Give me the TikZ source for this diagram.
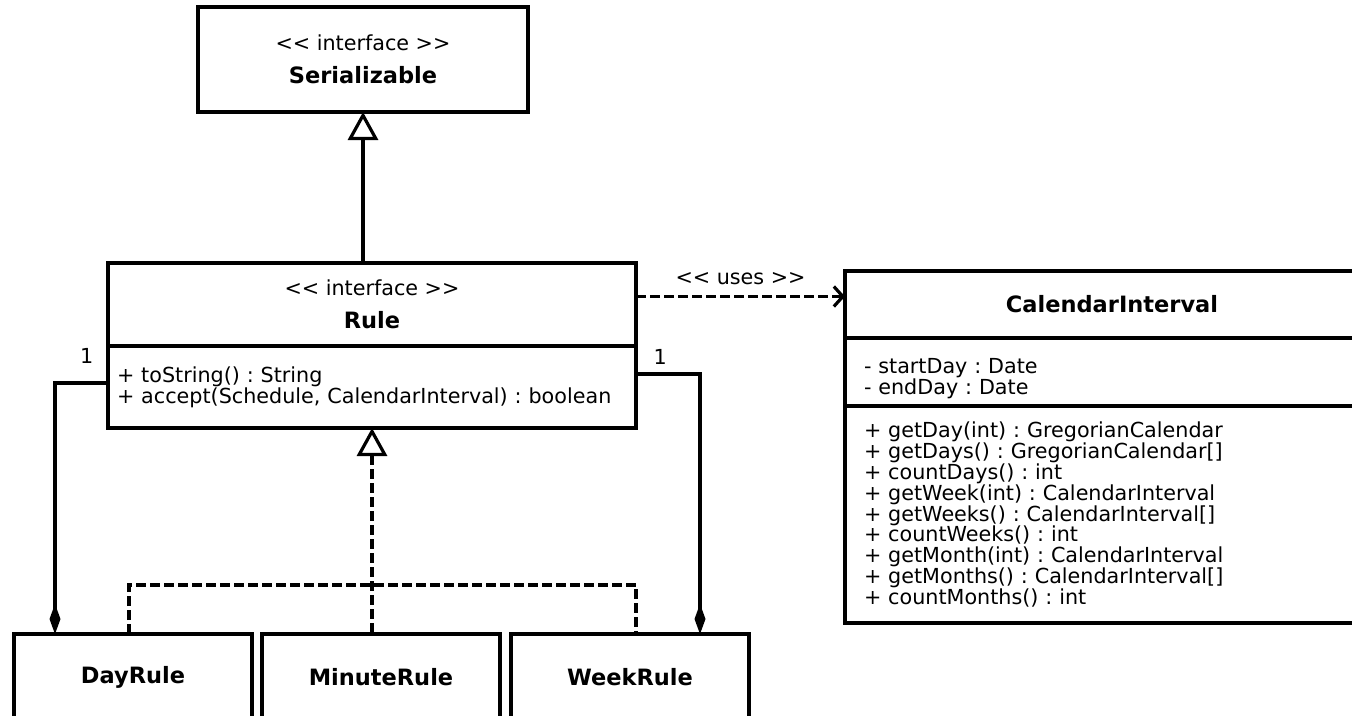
\documentclass[tikz,border=0pt]{standalone}
\usepackage{fontspec}
\setmainfont{DejaVu Sans}
\usetikzlibrary{arrows.meta}
\usetikzlibrary{positioning}

\newcommand{\stereo}[1]{<\kern0pt< #1 >\kern0pt>}
\newcommand{\cname}[1]{{\fontsize{22.5}{24}\selectfont\bfseries #1}}
\frenchspacing

\begin{document}
\begin{tikzpicture}[x=1pt, y=-1pt, line width=3.2pt,
    font=\fontsize{20.7}{20.9}\selectfont,
    box/.style={draw, rectangle, anchor=north west, inner sep=0pt, inner xsep=9pt, outer sep=0pt},
    head/.style={box, align=center},
    part/.style={box, anchor=north, align=left},
    realize/.style={{Triangle[open, length=28pt, width=30pt, fill=white]}-},
    dashline/.style={dash pattern=on 10pt off 4pt},
    compose/.style={-{Diamond[length=30pt, width=11pt]}},
    uses/.style={dashline, -{Straight Barb[length=9pt, width=20pt]}},
    mult/.style={inner sep=0pt}]
    \useasboundingbox (0,0) rectangle (1352,715);
    % interfaces
    \node[head, minimum width=330pt, minimum height=105pt] (serial) at (198,7)
        {\stereo{interface}\\[12pt]\cname{Serializable}};
    \node[head, minimum width=528pt, minimum height=83pt] (ruleHead) at (108,263)
        {\stereo{interface}\\[12pt]\cname{Rule}};
    \node[part, minimum height=82pt, text width=510pt] (ruleOps) at (ruleHead.south)
        {+ toString() : String\\+ accept(Schedule, CalendarInterval) : boolean};
    % calendar interval
    \node[head, minimum width=534pt, minimum height=67pt] (calHead) at (845,271)
        {\cname{CalendarInterval}};
    \node[part, inner xsep=19pt, minimum height=68pt, text width=496pt] (calAttr) at (calHead.south)
        {\rule{0pt}{28pt}- startDay : Date\\- endDay : Date};
    \node[part, inner xsep=19pt, minimum height=217pt, text width=496pt] (calOps) at (calAttr.south)
        {+ getDay(int) : GregorianCalendar\\
         + getDays() : GregorianCalendar[]\\
         + countDays() : int\\
         + getWeek(int) : CalendarInterval\\
         + getWeeks() : CalendarInterval[]\\
         + countWeeks() : int\\
         + getMonth(int) : CalendarInterval\\
         + getMonths() : CalendarInterval[]\\
         + countMonths() : int};
    % rules
    \node[head, minimum width=238pt, minimum height=86pt] (dayRule) at (14,634) {\cname{DayRule}};
    \node[head, minimum width=238pt, minimum height=86pt] (minuteRule) at (262,634) {\cname{MinuteRule}};
    \node[head, minimum width=238pt, minimum height=86pt] (weekRule) at (511,634) {\cname{WeekRule}};

    \draw[realize] (serial.south) -- (serial.south |- ruleHead.north);
    \draw[uses] ([yshift=8pt]ruleHead.east) -- ([yshift=8pt]ruleHead.east -| calHead.west)
        node[midway, anchor=south, yshift=10pt, mult] {\stereo{uses}};

    \coordinate (fork) at (372,585);
    \draw[realize, dashline] (ruleOps.south) -- (ruleOps.south |- minuteRule.north);
    \draw[dashline] ([xshift=-4pt]dayRule.north) |- (fork) -| ([xshift=6pt]weekRule.north);

    \draw[compose] ([yshift=4pt]ruleOps.west) -|
        node[mult, pos=0, anchor=south east, xshift=-13pt, yshift=18pt] {1}
        ([xshift=41pt]dayRule.north west);
    \draw[compose] ([yshift=13pt]ruleOps.east) -|
        node[mult, pos=0, anchor=south west, xshift=16pt, yshift=8pt] {1}
        ([xshift=-49pt]weekRule.north east);
\end{tikzpicture}
\end{document}
